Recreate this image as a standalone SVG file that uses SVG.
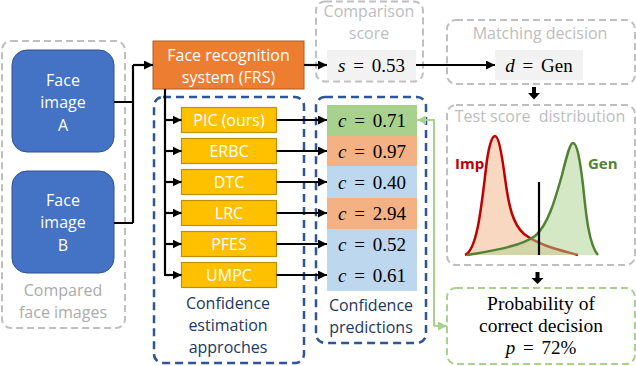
<svg xmlns="http://www.w3.org/2000/svg" width="636" height="366" viewBox="0 0 636 366">
<defs>
<marker id="ah" viewBox="0 0 10 10" refX="10" refY="5" markerWidth="9" markerHeight="9" markerUnits="userSpaceOnUse" orient="auto"><path d="M0,0 L10,5 L0,10 z" fill="#000"/></marker>
<marker id="ahg" viewBox="0 0 10 10" refX="10" refY="5" markerWidth="9" markerHeight="9" markerUnits="userSpaceOnUse" orient="auto"><path d="M0,0 L10,5 L0,10 z" fill="#A9D18E"/></marker>
<style>
.sans{font-family:"Open Sans","Liberation Sans",sans-serif;font-size:16px;text-anchor:middle}
.w{fill:#fff}
.gt{fill:#BDBDBD}
.gt2{fill:#ABABAB}
.bt{fill:#203864}
.math{font-family:"Liberation Serif",serif;font-size:19px;text-anchor:middle;fill:#000;word-spacing:3px}
.serif{font-family:"Liberation Serif",serif;font-size:19.5px;text-anchor:middle;fill:#000}
.gdash{fill:none;stroke:#BFBFBF;stroke-width:2;stroke-dasharray:7 4}
.bdash{fill:none;stroke:#2F5597;stroke-width:2.5;stroke-dasharray:8 5}
.grdash{fill:none;stroke:#A9D18E;stroke-width:2;stroke-dasharray:7 4}
.face{fill:#4472C4;stroke:#2F528F;stroke-width:1}
.meth{fill:#FFC000;stroke:#BF9000;stroke-width:1.2}
.conn{fill:none;stroke:#000;stroke-width:2.2}
.i{font-style:italic}
</style>
</defs>

<g id="containers">
<rect x="2" y="41" width="123" height="287" rx="9" class="gdash"/>
<rect x="154" y="97" width="150" height="266" rx="9" class="bdash"/>
<rect x="316" y="97" width="110" height="246" rx="9" class="bdash"/>
<rect x="316" y="1.5" width="107" height="80" rx="9" class="gdash"/>
<rect x="447" y="20" width="188" height="64" rx="9" class="gdash"/>
<rect x="447" y="105" width="188" height="160" rx="9" class="gdash"/>
<rect x="447" y="288" width="188" height="76" rx="9" class="grdash"/>
</g>

<g id="labels">
<text class="sans gt2" x="63" y="296">Compared</text>
<text class="sans gt2" x="63" y="318">face images</text>
<text class="sans bt" x="228" y="309">Confidence</text>
<text class="sans bt" x="228" y="331">estimation</text>
<text class="sans bt" x="228" y="353">approches</text>
<text class="sans bt" x="371" y="311">Confidence</text>
<text class="sans bt" x="371" y="333">predictions</text>
<text class="sans gt" x="369" y="17">Comparison</text>
<text class="sans gt" x="369" y="39">score</text>
<text class="sans gt" x="540" y="39">Matching decision</text>
<text class="sans gt" x="540" y="122" xml:space="preserve">Test score  distribution</text>
</g>

<g id="face-a">
<rect x="12" y="50" width="102" height="102" rx="15" class="face"/>
<text class="sans w" x="63" y="86">Face</text>
<text class="sans w" x="63" y="108">image</text>
<text class="sans w" x="63" y="131">A</text>
</g>
<g id="face-b">
<rect x="12" y="171" width="102" height="102" rx="15" class="face"/>
<text class="sans w" x="63" y="206">Face</text>
<text class="sans w" x="63" y="228">image</text>
<text class="sans w" x="63" y="251">B</text>
</g>

<g id="frs">
<rect x="153" y="41" width="151" height="48" fill="#ED7D31" stroke="#AE5A21" stroke-width="1"/>
<text class="sans w" x="228.5" y="61">Face recognition</text>
<text class="sans w" x="228.5" y="83">system (FRS)</text>
</g>

<g id="m-pic"><rect x="181.5" y="107.5" width="95" height="25" class="meth"/><text class="sans w" x="229" y="126">PIC (ours)</text></g>
<g id="m-erbc"><rect x="181.5" y="138.5" width="95" height="25" class="meth"/><text class="sans w" x="229" y="157">ERBC</text></g>
<g id="m-dtc"><rect x="181.5" y="169.5" width="95" height="25" class="meth"/><text class="sans w" x="229" y="188">DTC</text></g>
<g id="m-lrc"><rect x="181.5" y="200.5" width="95" height="25" class="meth"/><text class="sans w" x="229" y="219">LRC</text></g>
<g id="m-pfes"><rect x="181.5" y="231.5" width="95" height="25" class="meth"/><text class="sans w" x="229" y="250">PFES</text></g>
<g id="m-umpc"><rect x="181.5" y="262.5" width="95" height="25" class="meth"/><text class="sans w" x="229" y="281">UMPC</text></g>

<g id="score">
<rect x="327" y="50" width="89" height="30" fill="#F2F2F2"/>
<text class="math" x="371.5" y="72"><tspan class="i">s</tspan> = 0.53</text>
</g>
<g id="decision">
<rect x="495" y="50" width="88" height="30" fill="#F2F2F2"/>
<text class="math" x="539" y="72"><tspan class="i">d</tspan> = Gen</text>
</g>

<g id="c-pic"><rect x="327" y="105" width="90" height="31" fill="#A9D18E"/><text class="math" x="372" y="127"><tspan class="i">c</tspan> = 0.71</text></g>
<g id="c-erbc"><rect x="327" y="136" width="90" height="30" fill="#F4B183"/><text class="math" x="372" y="157.5"><tspan class="i">c</tspan> = 0.97</text></g>
<g id="c-dtc"><rect x="327" y="166" width="90" height="32" fill="#BDD7EE"/><text class="math" x="372" y="188.5"><tspan class="i">c</tspan> = 0.40</text></g>
<g id="c-lrc"><rect x="327" y="198" width="90" height="31" fill="#F4B183"/><text class="math" x="372" y="220"><tspan class="i">c</tspan> = 2.94</text></g>
<g id="c-pfes"><rect x="327" y="229" width="90" height="31" fill="#BDD7EE"/><text class="math" x="372" y="251"><tspan class="i">c</tspan> = 0.52</text></g>
<g id="c-umpc"><rect x="327" y="260" width="90" height="31" fill="#BDD7EE"/><text class="math" x="372" y="282"><tspan class="i">c</tspan> = 0.61</text></g>

<g id="distribution">
<path d="M465,255 C478,250 482,200 487,160 C490,140 493,136 495,136 C498,136 501,148 505,178 C509,208 513,224 524,234 C540,246 560,250 578,255 Z" fill="#F4B183" fill-opacity="0.5"/>
<path d="M465,255 C478,250 482,200 487,160 C490,140 493,136 495,136 C498,136 501,148 505,178 C509,208 513,224 524,234 C540,246 560,250 578,255" fill="none" stroke="#C00000" stroke-width="2.5"/>
<path d="M467,255 C490,251 520,247 535,236 C548,225 555,200 562,175 C567,155 570,143 573,143 C577,143 580,160 583,185 C586,215 589,245 598,255 Z" fill="#A9D18E" fill-opacity="0.5"/>
<path d="M467,255 C490,251 520,247 535,236 C548,225 555,200 562,175 C567,155 570,143 573,143 C577,143 580,160 583,185 C586,215 589,245 598,255" fill="none" stroke="#548235" stroke-width="2.5"/>
<line x1="539" y1="182" x2="539" y2="255" stroke="#000" stroke-width="2.2"/>
<text x="455" y="169" font-family="Open Sans,Liberation Sans,sans-serif" font-size="15" font-weight="bold" fill="#C00000">Imp</text>
<text x="588" y="169" font-family="Open Sans,Liberation Sans,sans-serif" font-size="15" font-weight="bold" fill="#548235">Gen</text>
</g>

<g id="probability">
<text class="serif" x="541" y="310">Probability of</text>
<text class="serif" x="541" y="332">correct decision</text>
<text class="math" x="541" y="354"><tspan class="i">p</tspan> = 72%</text>
</g>

<g id="connectors">
<path class="conn" d="M114,102 H133 M114,223 H133 M133,223 V65"/>
<path class="conn" d="M133,65 H153" marker-end="url(#ah)"/>
<path class="conn" d="M165,89 V275"/>
<path class="conn" d="M165,120 H181.5" marker-end="url(#ah)"/>
<path class="conn" d="M165,151 H181.5" marker-end="url(#ah)"/>
<path class="conn" d="M165,182 H181.5" marker-end="url(#ah)"/>
<path class="conn" d="M165,213 H181.5" marker-end="url(#ah)"/>
<path class="conn" d="M165,244 H181.5" marker-end="url(#ah)"/>
<path class="conn" d="M164,275 H181.5" marker-end="url(#ah)"/>
<path class="conn" d="M276.5,120 H327" marker-end="url(#ah)"/>
<path class="conn" d="M276.5,151 H327" marker-end="url(#ah)"/>
<path class="conn" d="M276.5,182 H327" marker-end="url(#ah)"/>
<path class="conn" d="M276.5,213 H327" marker-end="url(#ah)"/>
<path class="conn" d="M276.5,244 H327" marker-end="url(#ah)"/>
<path class="conn" d="M276.5,275 H327" marker-end="url(#ah)"/>
<path class="conn" d="M304,65 H327" marker-end="url(#ah)"/>
<path class="conn" d="M416,65 H495" marker-end="url(#ah)"/>
<path d="M434,326 V120 H417" fill="none" stroke="#A9D18E" stroke-width="2" marker-end="url(#ahg)"/>
<path d="M434,326 H447" fill="none" stroke="#A9D18E" stroke-width="2" marker-end="url(#ahg)"/>
<path d="M532,87 H536 V93 H540 L534,99.5 L528,93 H532 Z" fill="#000"/>
<path d="M535.5,272 H539.5 V278 H543.5 L537.5,284 L531.5,278 H535.5 Z" fill="#000"/>
</g>
</svg>
